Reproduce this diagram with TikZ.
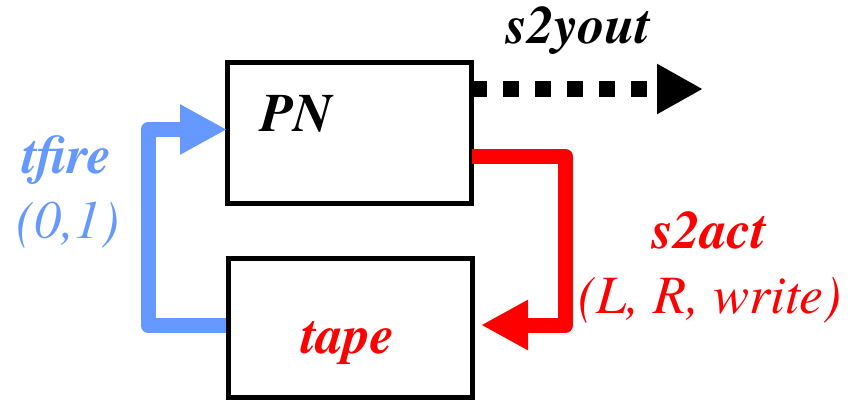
\documentclass[tikz,border=0pt]{standalone}
\usepackage{fontspec}
\newfontfamily\termes{texgyretermes}[Extension=.otf, UprightFont=*-regular, BoldFont=*-bold, ItalicFont=*-italic, BoldItalicFont=*-bolditalic]
\usetikzlibrary{arrows.meta}
\definecolor{fireblue}{HTML}{6699FF}
\definecolor{actred}{HTML}{FF0000}
\tikzset{
  box/.style={draw=black, line width=5pt, fill=white, inner sep=0pt, minimum width=244pt},
  boldlbl/.style={font=\fontsize{54}{60}\selectfont\termes\bfseries\itshape, inner sep=0pt, anchor=base},
  itlbl/.style={font=\fontsize{54}{60}\selectfont\termes\itshape, inner sep=0pt, anchor=base},
  bigtip/.style={-{Triangle[length=47pt,width=47pt]}},
}
\begin{document}
\begin{tikzpicture}[x=1pt,y=-1pt]
\useasboundingbox (0,0) rectangle (859,402);
% boxes
\node[box, minimum height=141pt] (PN) at (349.5,133) {};
\node[box, minimum height=139pt] (tape) at (350,328) {};
% labels
\node[boldlbl] (pnlbl) at (296.5,131) {PN};
\node[boldlbl, text=actred] (tapelbl) at (348,353) {tape};
\node[boldlbl, text=fireblue] (tfire) at (67,173) {tfire};
\node[itlbl, text=fireblue] (tfireval) at (68,238) {(0,1)};
\node[boldlbl] (s2yout) at (578.5,43) {s2yout};
\node[boldlbl, text=actred] (s2act) at (709.5,248) {s2act};
\node[itlbl, text=actred] (s2actval) at (710,313) {(L, R, write)};
% coordinates for connectors
\coordinate (bstart) at (tape.west |- 0,325.5);
\coordinate (bend) at (227,129.5);
\coordinate (rstart) at (471.5,156.5);
\coordinate (rend) at (481,325);
\coordinate (dstart) at (471,89);
\coordinate (dend) at (703,89);
% blue connector
\draw[fireblue, line width=15pt, line join=round, bigtip]
  (bstart) -- (148,325.5) -- (148,129.5) -- (bend);
% red connector
\draw[actred, line width=15pt, line join=round, bigtip]
  (rstart) -- (565.5,156.5) -- (565.5,325) -- (rend);
% dotted black connector
\draw[black, line width=16pt, dash pattern=on 16pt off 16pt, -{Triangle[length=46pt,width=47pt]}]
  (dstart) -- (dend);
\end{tikzpicture}
\end{document}
